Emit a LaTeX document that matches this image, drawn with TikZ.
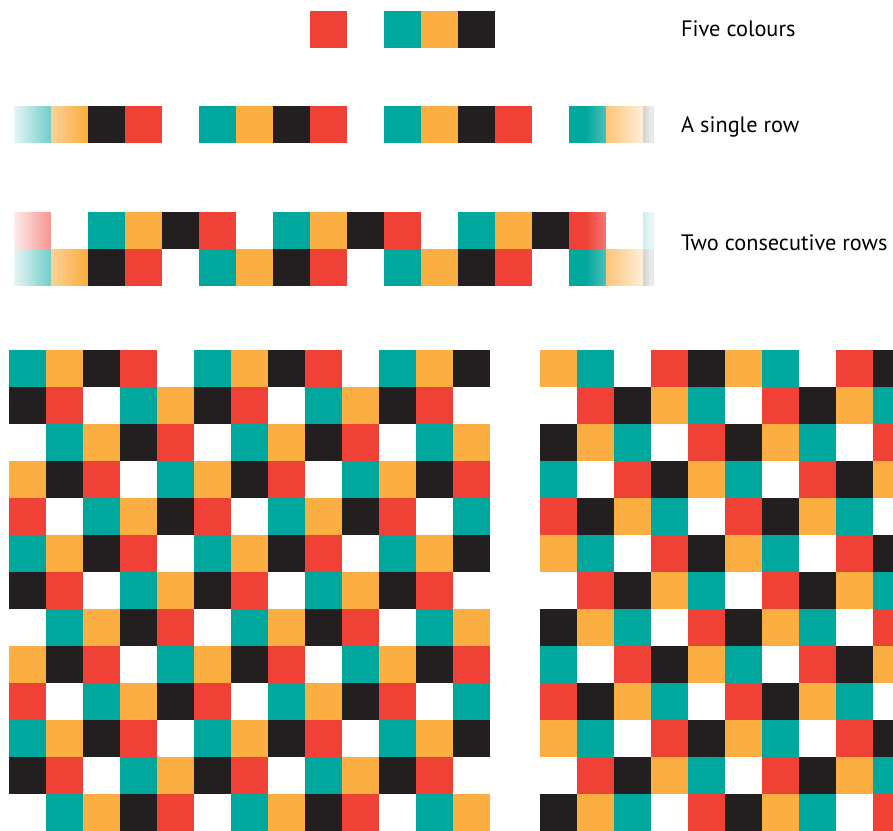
\documentclass[tikz,border=0pt]{standalone}
\usepackage{fontspec}
\setmainfont{PT Sans}
\usetikzlibrary{fadings}
\definecolor{tileteal}{HTML}{00A79D}
\definecolor{tileorange}{HTML}{FBAE42}
\definecolor{tileblack}{HTML}{231F20}
\definecolor{tilered}{HTML}{EF4136}
\newcommand{\tileorder}{{"tileteal","tileorange","tileblack","tilered","white"}}
\newcommand{\swaporder}{{"tileorange","tileteal","white","tilered","tileblack"}}
\tikzfading[name=fadetoright, left color=transparent!0, right color=transparent!100]
\tikzfading[name=fadetoleft, left color=transparent!100, right color=transparent!0]
\tikzset{
  veilleft/.style={fill=white, fill opacity=0.9, path fading=fadetoright},
  veilright/.style={fill=white, fill opacity=0.94, path fading=fadetoleft},
  rowlabel/.style={anchor=base west, inner sep=0pt,
                   font=\fontsize{22.3}{27}\selectfont},
}
\begin{document}
\begin{tikzpicture}[x=1pt, y=-1pt]
\path[use as bounding box, clip] (0,0) rectangle (893,830);
% five colours
\foreach \k in {8,...,12}{
  \pgfmathtruncatemacro{\i}{mod(\k,5)}
  \pgfmathsetmacro{\col}{\tileorder[\i]}
  \fill[\col] (14+37*\k,11) rectangle ++(37,37);
}
% single row and two consecutive rows
\begin{scope}
\clip (0,90) rectangle (653,300);
\foreach \k in {0,...,17}{
  \pgfmathtruncatemacro{\i}{mod(\k,5)}
  \pgfmathtruncatemacro{\j}{mod(\k+3,5)}
  \pgfmathsetmacro{\col}{\tileorder[\i]}
  \pgfmathsetmacro{\upcol}{\tileorder[\j]}
  \fill[\col] (14+37*\k,106) rectangle ++(37,37);
  \fill[\upcol] (14+37*\k,212.3) rectangle ++(37,37);
  \fill[\col] (14+37*\k,249.3) rectangle ++(37,37);
}
\end{scope}
\fill[veilleft] (14,106) rectangle (86,143);
\fill[veilright] (585,106) rectangle (653,143);
\fill[veilleft] (14,212.3) rectangle (86,286.3);
\fill[veilright] (585,212.3) rectangle (653,286.3);
% the two patterns
\foreach \r in {0,...,12}{
  \foreach \c in {0,...,12}{
    \pgfmathtruncatemacro{\i}{mod(\c+2*\r,5)}
    \pgfmathsetmacro{\col}{\tileorder[\i]}
    \fill[\col] (9+37*\c,350.3+37*\r) rectangle ++(37,37);
  }
  \foreach \c in {0,...,9}{
    \pgfmathtruncatemacro{\i}{mod(\c+2*\r,5)}
    \pgfmathsetmacro{\col}{\swaporder[\i]}
    \fill[\col] (540+37*\c,350.3+37*\r) rectangle ++(37,37);
  }
}
\node[rowlabel] (five) at (681,36.7) {Five colours};
\node[rowlabel] (single) at (681,132.5) {A single row};
\node[rowlabel] (double) at (681,250.3) {Two consecutive rows};
\end{tikzpicture}
\end{document}
